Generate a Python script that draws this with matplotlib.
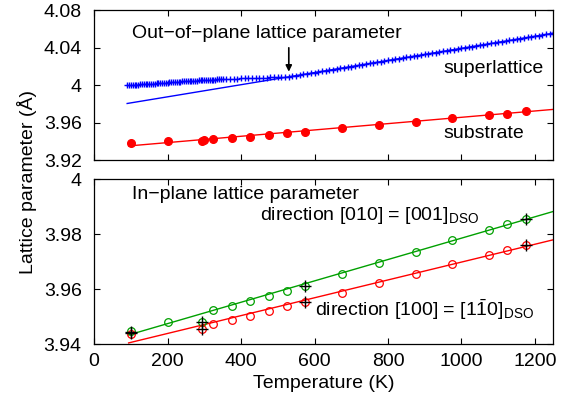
import numpy as np
import matplotlib
matplotlib.use("Agg")
import matplotlib.pyplot as plt
from matplotlib.ticker import FixedLocator, FuncFormatter

plt.rcParams['font.family'] = ['Liberation Sans', 'DejaVu Sans']
plt.rcParams['mathtext.fontset'] = 'custom'
plt.rcParams['mathtext.rm'] = 'Liberation Sans'
plt.rcParams['mathtext.it'] = 'Liberation Sans:italic'

# ---- out-of-plane: superlattice (dense scan) ----
sl_T = [90, 95, 100, 105, 110, 115, 120, 125, 130, 135, 140, 145, 150, 155, 160,
        165, 170, 175, 180, 185, 190, 195, 200, 205, 210, 215, 220, 225, 230, 235,
        240, 245, 250, 255, 260, 265, 270, 275, 280, 285, 290, 295, 300, 305, 310,
        315, 320, 325, 330, 335, 340, 345, 350,
        360, 370, 380, 390, 400, 410, 420, 430, 440, 450, 460, 470, 480, 490, 500,
        510, 520, 530, 540, 550, 560, 570, 580, 590, 600, 610, 620, 630, 640, 650,
        660, 670, 680, 690, 700, 710, 720, 730, 740, 750, 760, 770, 780, 790, 800,
        810, 820, 830, 840, 850, 860, 870, 880, 890, 900, 910, 920, 930, 940, 950,
        960, 970, 980, 990, 1000, 1010, 1020, 1030, 1040, 1050, 1060, 1070, 1080,
        1090, 1100, 1110, 1120, 1130, 1140, 1150, 1160, 1170, 1180, 1190, 1200,
        1210, 1220, 1230, 1240, 1250]
sl_a = [4.0000, 4.0001, 4.0003, 4.0004, 4.0005, 4.0006, 4.0008, 4.0009, 4.0010,
        4.0012, 4.0013, 4.0014, 4.0015, 4.0017, 4.0018, 4.0019, 4.0021, 4.0022,
        4.0024, 4.0025, 4.0027, 4.0028, 4.0029, 4.0031, 4.0032, 4.0034, 4.0035,
        4.0037, 4.0038, 4.0039, 4.0041, 4.0042, 4.0043, 4.0044, 4.0046, 4.0047,
        4.0048, 4.0050, 4.0051, 4.0052, 4.0053, 4.0055, 4.0056, 4.0057, 4.0058,
        4.0059, 4.0060, 4.0061, 4.0061, 4.0062, 4.0063, 4.0064, 4.0065,
        4.0067, 4.0069, 4.0070, 4.0072, 4.0073, 4.0075, 4.0076, 4.0078, 4.0079,
        4.0080, 4.0081, 4.0083, 4.0084, 4.0085, 4.0087, 4.0088, 4.0090, 4.0091,
        4.0097, 4.0103, 4.0110, 4.0116, 4.0123, 4.0129, 4.0136, 4.0142, 4.0149,
        4.0155, 4.0161, 4.0168, 4.0174, 4.0181, 4.0187, 4.0194, 4.0200, 4.0207,
        4.0213, 4.0220, 4.0226, 4.0233, 4.0239, 4.0245, 4.0252, 4.0258, 4.0265,
        4.0271, 4.0278, 4.0284, 4.0291, 4.0297, 4.0304, 4.0310, 4.0316, 4.0323,
        4.0329, 4.0336, 4.0342, 4.0349, 4.0355, 4.0362, 4.0368, 4.0375, 4.0381,
        4.0388, 4.0394, 4.0400, 4.0407, 4.0413, 4.0420, 4.0426, 4.0433, 4.0439,
        4.0446, 4.0452, 4.0459, 4.0465, 4.0471, 4.0478, 4.0484, 4.0491, 4.0497,
        4.0504, 4.0510, 4.0517, 4.0523, 4.0530, 4.0536, 4.0543, 4.0549, 4.0556]
sl_fit_T = [90, 1250]
sl_fit_a = [3.9806, 4.0556]

# ---- out-of-plane: substrate ----
sub_T = [100, 200, 295, 300, 325, 375, 425, 475, 525, 575, 675, 775, 875, 975,
         1075, 1125, 1175]
sub_a = [3.9385, 3.9402, 3.9410, 3.9420, 3.9424, 3.9441, 3.9448, 3.9470, 3.9488,
         3.9506, 3.9540, 3.9576, 3.9612, 3.9647, 3.9680, 3.9697, 3.9725]
sub_fit_T = [94, 1250]
sub_fit_a = [3.9353, 3.9743]

# ---- in-plane ----
g_T = [100, 200, 295, 325, 375, 425, 475, 525, 575, 675, 775, 875, 975, 1075,
       1125, 1175]
g_a = [3.9447, 3.9480, 3.9482, 3.9525, 3.9540, 3.9556, 3.9577, 3.9595, 3.9611,
       3.9655, 3.9695, 3.9735, 3.9778, 3.9816, 3.9839, 3.9855]
r_T = [100, 295, 325, 375, 425, 475, 525, 575, 675, 775, 875, 975, 1075, 1125, 1175]
r_a = [3.9437, 3.9454, 3.9473, 3.9489, 3.9503, 3.9522, 3.9538, 3.9553, 3.9588,
       3.9623, 3.9657, 3.9692, 3.9725, 3.9743, 3.9761]
g_fit_T = [94, 1250]
g_fit_a = [3.9434, 3.9883]
r_fit_T = [94, 1250]
r_fit_a = [3.9405, 3.9780]
ref_T = [100, 100, 295, 295, 575, 575, 1175, 1175]
ref_a = [3.9446, 3.9441, 3.9482, 3.9454, 3.9611, 3.9553, 3.9855, 3.9761]

blue = '#0000ff'
red = '#ff0000'
green = '#00a000'
fs = 14

fig = plt.figure(figsize=(5.72, 4.11), dpi=100)
ax1 = fig.add_axes([0.1645, 0.6100, 0.8028, 0.3649])
ax2 = fig.add_axes([0.1645, 0.1623, 0.8028, 0.4015])


def _format_axes(ax):
    ax.tick_params(which='both', direction='in', width=0.8, length=4,
                   top=True, right=True, labelsize=fs)
    ax.tick_params(axis='x', pad=6)
    ax.tick_params(axis='y', pad=9)
    for s in ax.spines.values():
        s.set_linewidth(0.9)
    ax.set_xlim(0, 1250)
    ax.xaxis.set_major_locator(FixedLocator([0, 200, 400, 600, 800, 1000, 1200]))
    ax.yaxis.set_major_formatter(FuncFormatter(lambda v, p: '%g' % round(v, 4)))


# top panel: out-of-plane
ax1.plot(sl_fit_T, sl_fit_a, '-', color=blue, lw=1)
ax1.plot(sl_T, sl_a, '+', color=blue, ms=4.5, mew=1.0)
ax1.plot(sub_fit_T, sub_fit_a, '-', color=red, lw=1)
ax1.plot(sub_T, sub_a, 'o', color=red, ms=5.5)
ax1.set_ylim(3.92, 4.08)
ax1.yaxis.set_major_locator(FixedLocator([3.92, 3.96, 4.00, 4.04, 4.08]))
_format_axes(ax1)
ax1.tick_params(labelbottom=False)
ax1.text(102, 4.0505, 'Out\u2212of\u2212plane lattice parameter', fontsize=fs,
         va='baseline', ha='left')
ax1.text(1225, 4.0134, 'superlattice', fontsize=fs, va='baseline', ha='right')
ax1.text(1171, 3.9435, 'substrate', fontsize=fs, va='baseline', ha='right')
ax1.annotate('', xy=(530, 4.0145), xytext=(530, 4.0400),
             arrowprops=dict(arrowstyle='-|>', color='black', lw=1.2,
                             mutation_scale=9, shrinkA=0, shrinkB=0))

# bottom panel: in-plane
ax2.plot(g_fit_T, g_fit_a, '-', color=green, lw=1)
ax2.plot(r_fit_T, r_fit_a, '-', color=red, lw=1)
ax2.plot(g_T, g_a, 'o', color=green, mfc='none', ms=5.5, mew=0.9)
ax2.plot(r_T, r_a, 'o', color=red, mfc='none', ms=5.5, mew=0.9)
ax2.plot(ref_T, ref_a, '+', color='black', ms=9, mew=1.0)
ax2.set_ylim(3.94, 4.00)
ax2.yaxis.set_major_locator(FixedLocator([3.94, 3.96, 3.98, 4.00]))
_format_axes(ax2)
ax2.set_xlabel('Temperature (K)', fontsize=fs, labelpad=4)
ax2.text(102, 3.9927, 'In\u2212plane lattice parameter', fontsize=fs,
         va='baseline', ha='left')
ax2.text(451, 3.9852, r'direction [010] = [001]$_{\rm DSO}$', fontsize=fs,
         va='baseline', ha='left')
ax2.text(600, 3.9504, r'direction [100] = [1$\bar{\rm 1}$0]$_{\rm DSO}$', fontsize=fs,
         va='baseline', ha='left')

fig.text(0.047, 0.556, 'Lattice parameter (\u00c5)', rotation=90, fontsize=fs,
         va='center', ha='center')

fig.savefig('out.png', dpi=100)
